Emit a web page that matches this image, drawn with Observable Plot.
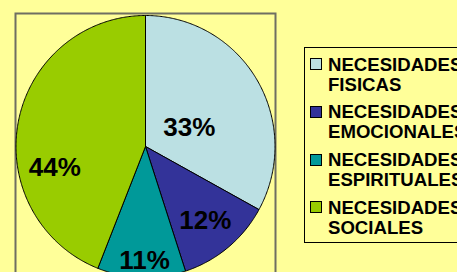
<!DOCTYPE html>
<html>
<head>
<meta charset="utf-8">
<script src="https://cdn.jsdelivr.net/npm/d3@7"></script>
<script src="https://cdn.jsdelivr.net/npm/@observablehq/plot@0.6"></script>
<style>
  html, body { margin: 0; padding: 0; background: #FFFF99; overflow: hidden; }
  #wrap { position: relative; width: 457px; height: 272px; overflow: hidden; background: #FFFF99;
          font-family: "Liberation Sans", Arial, sans-serif; }
  #chart svg { display: block; }
  #legend { position: absolute; left: 304px; top: 47px; width: 200px; height: 196px;
            box-sizing: border-box; border: 1px solid #000; padding-top: 6.5px; }
  .item { position: relative; padding-left: 23px; margin-bottom: 7.8px; font-weight: bold;
          font-size: 18.6px; line-height: 20px; white-space: nowrap; color: #000; }
  .sw { position: absolute; left: 5px; top: 3.5px; width: 10px; height: 10px; border: 1px solid #000; }
</style>
</head>
<body>
<div id="wrap">
  <div id="chart"></div>
  <div id="legend"></div>
</div>
<script>
// ---- data ----
const categories = ["NECESIDADES FISICAS", "NECESIDADES EMOCIONALES", "NECESIDADES ESPIRITUALES", "NECESIDADES SOCIALES"];
const values = [33, 12, 11, 44];
const colors = ["#BBE0E3", "#333399", "#009999", "#99CC00"];
// ---- layout (label anchors in unit-pie coordinates) ----
const labelAnchors = [[0.338, 0.140], [0.462, -0.565], [-0.008, -0.870], [-0.700, -0.160]];

const total = d3.sum(values);
const arcs = d3.pie().sort(null).value(d => d)(values);

// polygon points for each slice (angle measured clockwise from 12 o'clock)
const sliceMarks = arcs.map((a, i) => {
  const n = Math.max(8, Math.ceil((a.endAngle - a.startAngle) / 0.01));
  const pts = [{x: 0, y: 0}];
  for (let k = 0; k <= n; k++) {
    const t = a.startAngle + (a.endAngle - a.startAngle) * k / n;
    pts.push({x: Math.sin(t), y: Math.cos(t)});
  }
  pts.push({x: 0, y: 0});
  return Plot.line(pts, {x: "x", y: "y", fill: colors[i], stroke: "#000", strokeWidth: 1, curve: "linear"});
});

const labels = values.map((v, i) => ({
  x: labelAnchors[i][0], y: labelAnchors[i][1], text: Math.round(v / total * 100) + "%"
}));

const chart = Plot.plot({
  width: 457,
  height: 272,
  marginLeft: 15,
  marginTop: 13,
  marginRight: 182,
  marginBottom: -10,
  style: {background: "transparent", fontFamily: "'Liberation Sans', Arial, sans-serif"},
  x: {domain: [-1, 1], range: [15.5, 274.5], axis: null},
  y: {domain: [-1, 1], range: [277, 15], axis: null},
  marks: [
    Plot.frame({stroke: "#6f6f62", strokeWidth: 2}),
    ...sliceMarks,
    Plot.text(labels, {x: "x", y: "y", text: "text", fontSize: 26, fontWeight: "bold", fill: "#000"})
  ]
});
document.getElementById("chart").appendChild(chart);

// legend
const legend = document.getElementById("legend");
categories.forEach((c, i) => {
  const div = document.createElement("div");
  div.className = "item";
  const sw = document.createElement("span");
  sw.className = "sw";
  sw.style.background = colors[i];
  div.appendChild(sw);
  const parts = c.split(" ");
  div.appendChild(document.createTextNode(parts[0]));
  div.appendChild(document.createElement("br"));
  div.appendChild(document.createTextNode(parts.slice(1).join(" ")));
  legend.appendChild(div);
});
</script>
</body>
</html>
